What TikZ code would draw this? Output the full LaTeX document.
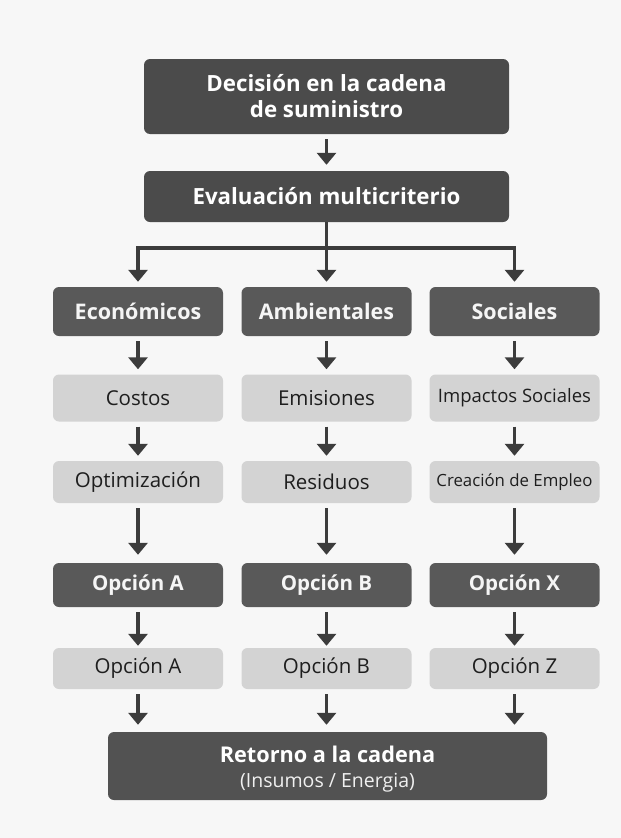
\documentclass[tikz,border=0pt]{standalone}
\usepackage{fontspec}
\setmainfont{Open Sans}
\usetikzlibrary{arrows.meta}
\definecolor{bg}{HTML}{F7F7F7}
\definecolor{topdark}{HTML}{4B4B4B}
\definecolor{middark}{HTML}{595959}
\definecolor{lightbox}{HTML}{D3D3D3}
\definecolor{lighttext}{HTML}{1E1E1E}
\definecolor{arrowcol}{HTML}{3C3C3C}
\tikzset{
  box/.style={rectangle, rounded corners=6pt, inner sep=0pt, align=center},
  topbox/.style={box, fill=topdark, text=white, minimum width=365pt,
     font=\fontsize{22.3}{26}\selectfont\bfseries},
  darkbox/.style={box, fill=middark, text=white!96!black, minimum width=170pt,
     font=\fontsize{21.5}{24}\selectfont\bfseries},
  lbox/.style={box, fill=lightbox, text=lighttext, minimum width=170pt,
     font=\fontsize{20.5}{23}\selectfont},
  arr/.style={draw=arrowcol, line width=3.6pt,
     -{Triangle[width=19pt,length=12pt]}, shorten <=5pt, shorten >=5pt},
  ln/.style={draw=arrowcol, line width=3.6pt}
}
\begin{document}
\begin{tikzpicture}[x=1pt,y=-1pt]
\fill[bg] (0,0) rectangle (621,838);
\useasboundingbox (0,0) rectangle (621,838);

\node[topbox, minimum height=75pt] (dec) at (326.5,96.5) {Decisión en la cadena\\de suministro};
\node[topbox, minimum height=51pt] (eval) at (326.5,196.5) {Evaluación multicriterio};

% row 1
\node[darkbox, minimum height=49pt] (e1) at (138,311.5) {Económicos};
\node[darkbox, minimum height=49pt] (a1) at (326.5,311.5) {Ambientales};
\node[darkbox, minimum height=49pt] (s1) at (514.5,311.5) {Sociales};
% row 2
\node[lbox, minimum height=47pt] (e2) at (138,398) {Costos};
\node[lbox, minimum height=47pt] (a2) at (326.5,398) {Emisiones};
\node[lbox, minimum height=47pt, font=\fontsize{18.5}{21}\selectfont] (s2) at (514.5,398) {Impactos Sociales};
% row 3
\node[lbox, minimum height=42pt] (e3) at (138,482) {Optimización};
\node[lbox, minimum height=42pt] (a3) at (326.5,482) {Residuos};
\node[lbox, minimum height=42pt, font=\fontsize{16.8}{19}\selectfont] (s3) at (514.5,482) {Creación de Empleo};
% row 4
\node[darkbox, minimum height=44pt, font=\fontsize{20.5}{24}\selectfont\bfseries] (e4) at (138,585) {Opción A};
\node[darkbox, minimum height=44pt, font=\fontsize{20.5}{24}\selectfont\bfseries] (a4) at (326.5,585) {Opción B};
\node[darkbox, minimum height=44pt, font=\fontsize{20.5}{24}\selectfont\bfseries] (s4) at (514.5,585) {Opción X};
% row 5
\node[lbox, minimum height=41pt] (e5) at (138,668.5) {Opción A};
\node[lbox, minimum height=41pt] (a5) at (326.5,668.5) {Opción B};
\node[lbox, minimum height=41pt] (s5) at (514.5,668.5) {Opción Z};
% return
\node[box, fill=middark!92!black, minimum width=439pt, minimum height=68pt] (ret) at (327.5,766) {};
\node[text=white, font=\fontsize{21.7}{24}\selectfont\bfseries, anchor=base] (rt1) at (327.5,762) {Retorno a la cadena};
\node[text=white!94!black, font=\fontsize{19.5}{22}\selectfont, anchor=base] (rt2) at (327.5,787) {(Insumos / Energia)};

% connectors
\draw[arr, shorten >=6pt] (dec) -- (eval);
\coordinate (br) at (326.5,248);
\draw[ln] (eval.south) -- (br);
\draw[ln, line cap=rect] (e1.north |- br) -- (s1.north |- br);
\draw[arr, shorten <=0pt] (br) -- (a1.north);
\draw[arr, shorten <=0pt] (e1.north |- br) -- (e1.north);
\draw[arr, shorten <=0pt] (s1.north |- br) -- (s1.north);

\foreach \c in {e,a,s}{
  \draw[arr] (\c1) -- (\c2);
  \draw[arr] (\c2) -- (\c3);
  \draw[arr, shorten >=8pt] (\c3) -- (\c4);
  \draw[arr, shorten >=2pt] (\c4) -- (\c5);
  \draw[arr, shorten >=7pt] (\c5.south) -- (\c5.south |- ret.north);
}
\end{tikzpicture}
\end{document}
